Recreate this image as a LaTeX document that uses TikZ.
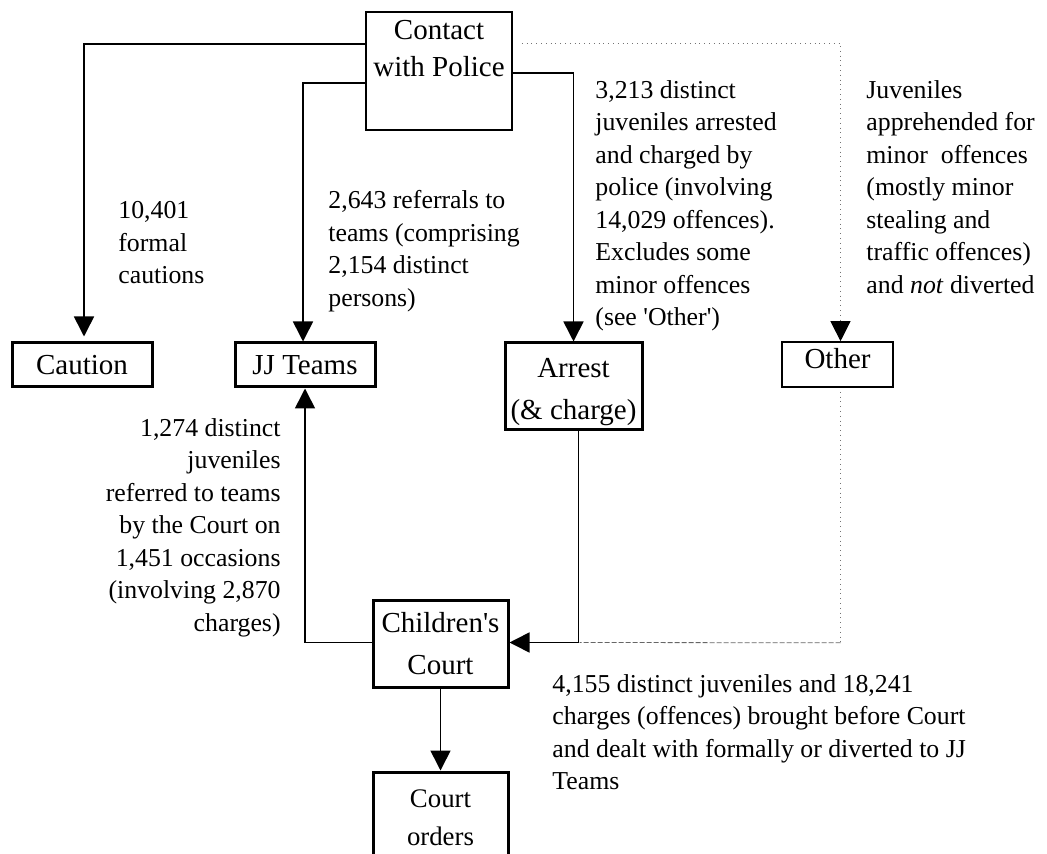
\documentclass[tikz,border=0pt]{standalone}
\usepackage{fontspec}
\setmainfont{Liberation Serif}
\usetikzlibrary{positioning,arrows.meta,calc}

\begin{document}
\begin{tikzpicture}[
  x=0.5pt, y=-0.5pt,
  >={Triangle[length=10pt, width=10pt]},
  stage/.style={draw=black, line width=1.5pt, align=center, inner sep=0pt,
                font=\fontsize{14.5}{21}\selectfont},
  thinstage/.style={draw=black, line width=0.8pt, inner sep=0pt},
  stagetxt/.style={align=center, inner sep=0pt, font=\fontsize{14.5}{18.5}\selectfont},
  note/.style={align=left, inner sep=0pt, font=\fontsize{12.9}{16.25}\selectfont},
  flow/.style={->, line width=0.8pt},
  minorflow/.style={line width=0.4pt, draw=black!55, dotted},
  minordash/.style={line width=0.4pt, draw=black!60, dash pattern=on 2.5pt off 1pt},
]
\useasboundingbox (0,0) rectangle (1047,854);

% ---- police contact (top) ----
\node[thinstage, minimum width=73pt, minimum height=59pt] (contact) at (439,71) {};
\node[stagetxt, anchor=north] (contacttxt) at (439,20) {Contact\\with Police};

% ---- first outcomes row ----
\node[stage, minimum width=70pt, minimum height=22pt] (caution) at (82,365) {Caution};
\node[stage, minimum width=70pt, minimum height=22pt] (teams) at (305,365) {JJ Teams};
\node[stage, minimum width=68.5pt, minimum height=43.5pt] (arrest) at (573.5,386.5)
      {\rule{0pt}{15pt}Arrest\\(\& charge)};
\node[thinstage, minimum width=55.5pt, minimum height=22.5pt] (other) at (837.5,364.5) {};
\node[stagetxt, anchor=north] (othertxt) at (837.5,348) {Other};

% ---- court and orders ----
\node[stage, minimum width=67.5pt, minimum height=43.5pt] (court) at (440.5,643.5)
      {Children\textquotesingle s\\Court};
\node[stage, minimum width=67.5pt, minimum height=46pt,
      font=\fontsize{13.4}{19}\selectfont] (orders) at (440.5,818) {Court\\orders};

% ---- connectors ----
\draw[flow] ($(contact.north west)+(0,33)$) -| ($(caution.north)+(2,-5)$);
\draw[flow] ($(contact.north west)+(0,72)$) -| ($(teams.north)+(-2,0)$);
\draw[flow] ($(contact.north east)+(0,62)$) -| (arrest.north);
\draw[minorflow] ($(contact.north east)+(9,32)$) -| ($(other.north)+(3,-8)$);
\draw[->, line width=0.4pt] ($(other.north)+(3,-8)$) -- ($(other.north)+(3,0)$);
\draw[minorflow] ($(other.south)+(3,4)$) -- ($(other.south)+(3,255)$);
\draw[minordash] ($(other.south)+(3,255)$) -- ($(court.east)+(70,-1)$);
\draw[flow] ($(arrest.south)+(5,0)$) |- ($(court.east)+(0,-1)$);
\draw[flow] ($(court.west)+(0,-1)$) -| (teams.south);
\draw[flow] (court.south) -- (orders.north);

% ---- counts ----
\node[note, anchor=north west] (cautionnote) at (118,201) {10,401\\formal\\cautions};
\node[note, anchor=north west] (teamsnote) at (328,190) {2,643 referrals to\\teams (comprising\\2,154 distinct\\persons)};
\node[note, anchor=north west] (arrestnote) at (595,80)
      {3,213 distinct\\juveniles arrested\\and charged by\\police (involving\\14,029 offences).\\Excludes some\\minor offences\\(see \textquotesingle Other\textquotesingle)};
\node[note, anchor=north west] (othernote) at (866,80)
      {Juveniles\\apprehended for\\minor~ offences\\(mostly minor\\stealing and\\traffic offences)\\and \textit{not} diverted};
\node[note, anchor=north east, align=right] (referralnote) at (281,418)
      {1,274 distinct\\juveniles\\referred to teams\\by the Court on\\1,451 occasions\\(involving 2,870\\charges)};
\node[note, anchor=north west] (courtnote) at (552,674)
      {4,155 distinct juveniles and 18,241\\charges (offences) brought before Court\\and dealt with formally or diverted to JJ\\Teams};
\end{tikzpicture}
\end{document}
